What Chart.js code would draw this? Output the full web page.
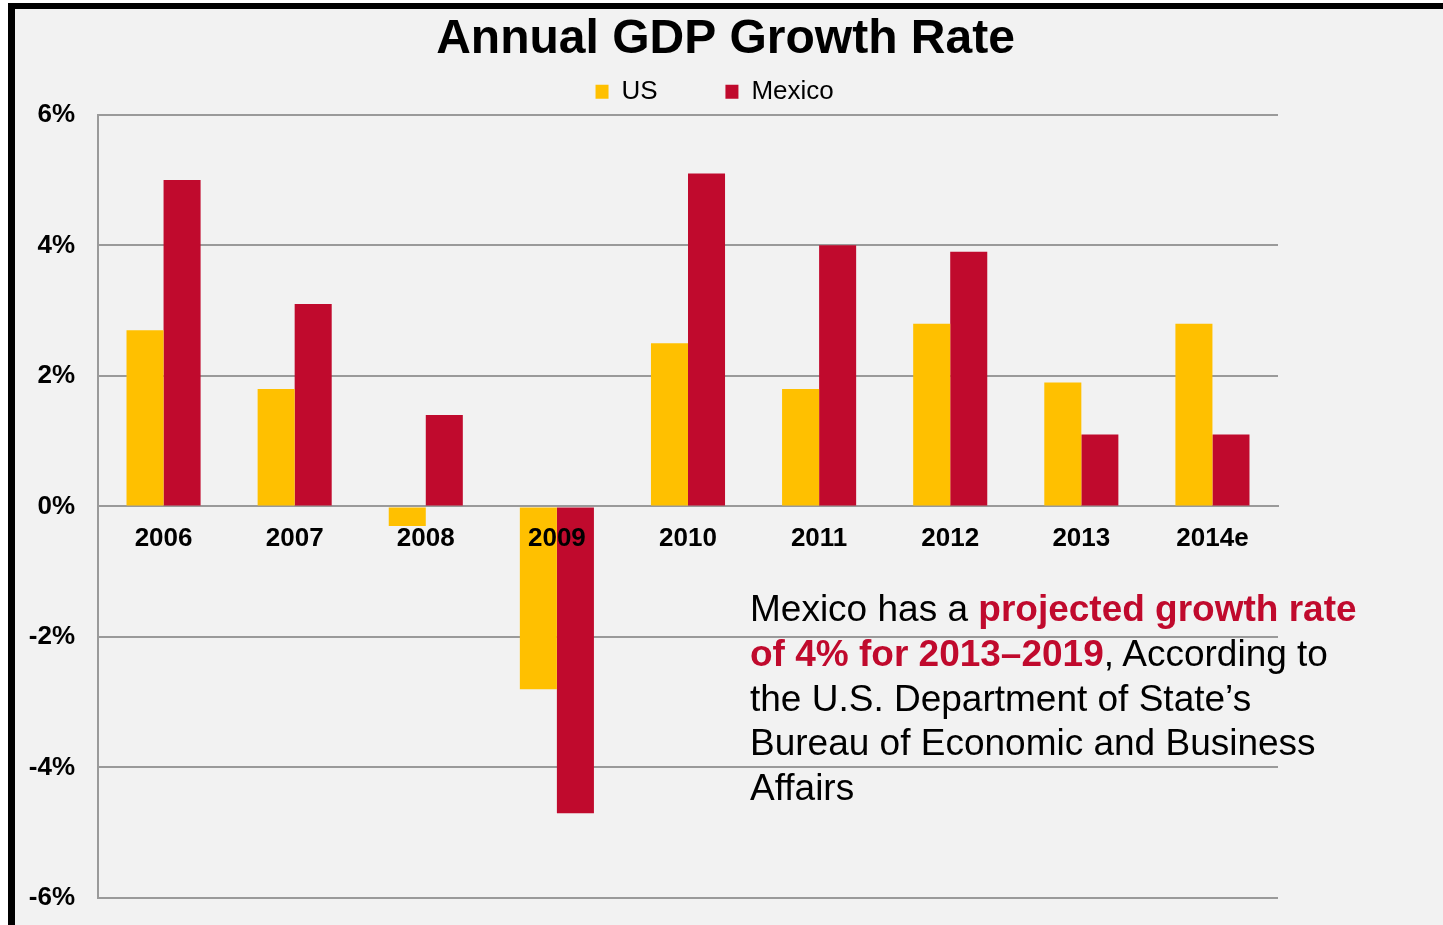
<!DOCTYPE html>
<html>
<head>
<meta charset="utf-8">
<title>Annual GDP Growth Rate</title>
<script src="https://cdn.jsdelivr.net/npm/chart.js@4.4.1/dist/chart.umd.min.js"></script>
<style>
  html, body { margin: 0; padding: 0; background: #fff; }
  body { width: 1443px; height: 925px; position: relative; overflow: hidden; font-family: "Liberation Sans", Arial, sans-serif; }
  #frame { position: absolute; left: 8px; top: 3px; right: 0; bottom: 0; background: #f2f2f2; border-left: 7px solid #000; border-top: 6px solid #000; }
  #chart { position: absolute; left: 0; top: 0; }
  #note { position: absolute; left: 750px; top: 587px; font-size: 37px; line-height: 44.75px; color: #000; white-space: nowrap; }
  #note b { color: #c00a2d; }
</style>
</head>
<body>
<div id="frame"></div>
<canvas id="chart" width="1443" height="925"></canvas>
<div id="note">Mexico has a <b>projected growth rate</b><br><b>of 4% for 2013–2019</b>, According to<br>the U.S. Department of State’s<br>Bureau of Economic and Business<br>Affairs</div>
<script>
// values (% annual GDP growth)
const years = ['2006', '2007', '2008', '2009', '2010', '2011', '2012', '2013', '2014e'];
const usGrowth = [2.7, 1.8, -0.3, -2.8, 2.5, 1.8, 2.8, 1.9, 2.8];
const mexicoGrowth = [5.0, 3.1, 1.4, -4.7, 5.1, 4.0, 3.9, 1.1, 1.1];
const yTicks = [-6, -4, -2, 0, 2, 4, 6];

const gridGray = '#9a9a9a';
// extra room after each legend label, the original spreads them apart
const legendGap = ['        ', '   '];

Chart.defaults.font.family = '"Liberation Sans", Arial, sans-serif';
Chart.defaults.color = '#000';

const ctx = document.getElementById('chart').getContext('2d');
const chart = new Chart(ctx, {
    type: 'bar',
    data: {
        labels: years,
        datasets: [{
            label: 'US',
            data: usGrowth,
            backgroundColor: '#ffc000',
            borderWidth: 0
        }, {
            label: 'Mexico',
            data: mexicoGrowth,
            backgroundColor: '#c00a2d',
            borderWidth: 0
        }]
    },
    options: {
        responsive: false,
        animation: false,
        categoryPercentage: 0.565,
        barPercentage: 1.0,
        layout: {
            padding: { left: 8, top: 0, right: 0, bottom: 27 }
        },
        plugins: {
            tooltip: { enabled: false },
            title: {
                display: true,
                text: 'Annual GDP Growth Rate',
                color: '#000',
                font: { size: 48, weight: 'bold' },
                padding: { top: 11.2, bottom: 0 }
            },
            legend: {
                position: 'top',
                labels: {
                    color: '#000',
                    font: { size: 26 },
                    boxWidth: 13,
                    boxHeight: 14,
                    padding: 10,
                    generateLabels: function (c) {
                        const items = Chart.defaults.plugins.legend.labels.generateLabels(c);
                        items.forEach((it, i) => { it.text = it.text + legendGap[i]; });
                        return items;
                    }
                }
            }
        },
        scales: {
            x: {
                position: { y: 0 },
                grid: { display: false, drawTicks: false },
                border: { display: true, color: gridGray, width: 2 },
                ticks: {
                    z: 1,
                    color: '#000',
                    font: { size: 26, weight: 'bold' },
                    padding: 17,
                    maxRotation: 0,
                    autoSkip: false
                }
            },
            y: {
                min: yTicks[0],
                max: yTicks[yTicks.length - 1],
                afterBuildTicks: function (scale) {
                    scale.ticks = yTicks.map(v => ({ value: v }));
                },
                ticks: {
                    callback: v => v + '%',
                    color: '#000',
                    font: { size: 26, weight: 'bold' },
                    padding: 0
                },
                // invisible tick marks keep the labels away from the axis
                grid: { color: gridGray, lineWidth: 2, drawTicks: true, tickLength: 23, tickColor: 'rgba(0,0,0,0)' },
                border: { display: true, color: gridGray, width: 2 },
                afterFit: function (scale) { scale.width = 90; }
            },
            // empty axis on the right, only keeps the plot narrower like the original
            side: {
                type: 'linear',
                axis: 'y',
                position: 'right',
                grid: { display: false },
                border: { display: false },
                ticks: { display: false },
                afterFit: function (scale) { scale.width = 165; }
            }
        }
    }
});
</script>
</body>
</html>
